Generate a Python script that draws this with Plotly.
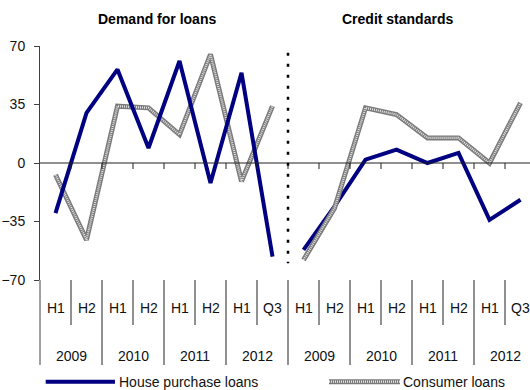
import plotly.graph_objects as go

# Category axis: two panels, each with eight survey rounds
periods = ["H1", "H2", "H1", "H2", "H1", "H2", "H1", "Q3"]
years = ["2009", "2010", "2011", "2012"]
panel_titles = ["Demand for loans", "Credit standards"]

# Net percentages
demand_house = [-30, 30, 56, 9, 61, -12, 54, -56]
demand_consumer = [-7, -46, 34, 33, 17, 65, -11, 34]
standards_house = [-52, -26, 2, 8, 0, 6, -34, -22]
standards_consumer = [-58, -27, 33, 29, 15, 15, 0, 36]

y_ticks = [-70, -35, 0, 35, 70]
legend_names = ["House purchase loans", "Consumer loans"]

NAVY = "#000080"
FONT = "Liberation Sans, Arial, sans-serif"
FS = 14
TXT = "#111111"
n = len(periods)
xs_left = list(range(n))
xs_right = [n + i for i in range(n)]

fig = go.Figure()


def add_consumer(xs, ys):
    # textured grey line: dark body with a light dotted core
    fig.add_trace(go.Scatter(x=xs, y=ys, mode="lines",
                             line=dict(color="#7a7a7a", width=5),
                             hoverinfo="skip", showlegend=False))
    fig.add_trace(go.Scatter(x=xs, y=ys, mode="lines",
                             line=dict(color="#e4e4e4", width=2.2, dash="1px,1px"),
                             hoverinfo="skip", showlegend=False))


def add_house(xs, ys):
    fig.add_trace(go.Scatter(x=xs, y=ys, mode="lines",
                             line=dict(color=NAVY, width=4),
                             hoverinfo="skip", showlegend=False))


add_consumer(xs_left, demand_consumer)
add_house(xs_left, demand_house)
add_house(xs_right, standards_house)
add_consumer(xs_right, standards_consumer)

shapes = []
annotations = []


def label(x, y, text, xref="x", xanchor="center", size=FS, color=TXT):
    annotations.append(dict(x=x, y=y, xref=xref, yref="paper", text=text,
                            xanchor=xanchor, yanchor="middle", showarrow=False,
                            font=dict(size=size, color=color, family=FONT)))


# zero line with small downward ticks at category boundaries
shapes.append(dict(type="line", xref="paper", yref="y", x0=0, x1=1, y0=0, y1=0,
                   line=dict(color="#202020", width=1)))
for b in range(1, 2 * n):
    shapes.append(dict(type="line", xref="x", yref="y", x0=b - 0.5, x1=b - 0.5,
                       y0=0, y1=-3.6, line=dict(color="#202020", width=1)))

# y axis line continued down through the category label area
shapes.append(dict(type="line", xref="paper", yref="paper", x0=0, x1=0,
                   y0=0, y1=-0.3632, line=dict(color="#404040", width=1)))

# dotted divider between the two panels
shapes.append(dict(type="line", xref="x", yref="y", x0=n - 0.5, x1=n - 0.5,
                   y0=66, y1=-60, line=dict(color="black", width=2.5, dash="3px,8px")))

# multi-level category labels and separators
for p in range(2):
    for i, lab in enumerate(periods):
        xi = p * n + i
        label(xi, -0.1197, lab)
        if i % 2 == 0:
            shapes.append(dict(type="line", xref="x", yref="paper", x0=xi + 0.5, x1=xi + 0.5,
                               y0=0, y1=-0.1923, line=dict(color="#222", width=1)))
        else:
            shapes.append(dict(type="line", xref="x", yref="paper", x0=xi + 0.5, x1=xi + 0.5,
                               y0=0, y1=-0.3632, line=dict(color="#222", width=1)))
    for j, yr in enumerate(years):
        label(p * n + 2 * j + 0.5, -0.3248, yr)

# panel titles
for tx, title in zip([0.2378, 0.7306], panel_titles):
    label(tx, 1.1167, "<b>" + title + "</b>", xref="paper", color="black")

# legend drawn beneath the axis
ly = -0.4346
shapes.append(dict(type="line", xref="paper", yref="paper", x0=0.0116, x1=0.153,
                   y0=ly, y1=ly, line=dict(color=NAVY, width=4)))
shapes.append(dict(type="line", xref="paper", yref="paper", x0=0.5898, x1=0.7347,
                   y0=ly, y1=ly, line=dict(color="#7a7a7a", width=5)))
shapes.append(dict(type="line", xref="paper", yref="paper", x0=0.5898, x1=0.7347,
                   y0=ly, y1=ly, line=dict(color="#e4e4e4", width=2.2, dash="1px,1px")))
label(0.158, ly, legend_names[0], xref="paper", xanchor="left")
label(0.737, ly, legend_names[1], xref="paper", xanchor="left")

fig.update_layout(
    width=530, height=390,
    margin=dict(l=40, r=0, t=46, b=110),
    paper_bgcolor="white", plot_bgcolor="white",
    showlegend=False,
    shapes=shapes, annotations=annotations,
    xaxis=dict(range=[-0.5, 15.306], visible=False, fixedrange=True),
    yaxis=dict(range=[-70, 70], tickvals=y_ticks, showgrid=False, zeroline=False,
               showline=True, linecolor="#404040", linewidth=1,
               ticks="outside", ticklen=5, tickcolor="#404040",
               ticklabelstandoff=6,
               tickfont=dict(size=FS, color=TXT, family=FONT)),
)

fig.write_html("out.html")
